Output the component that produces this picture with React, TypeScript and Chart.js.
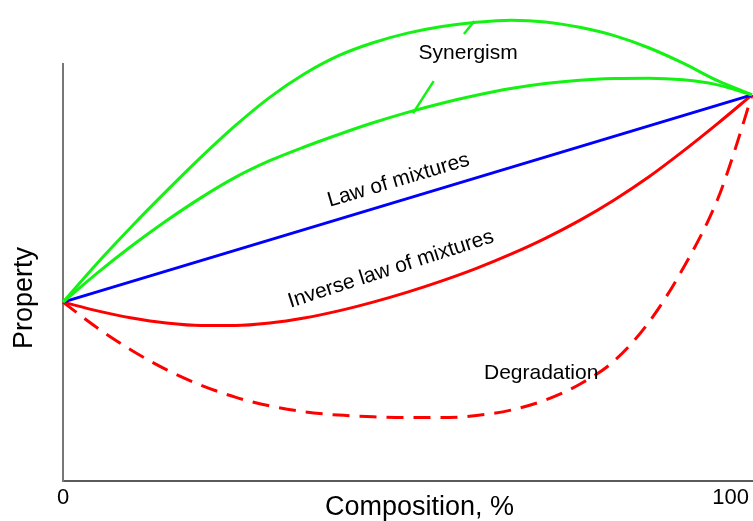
import React, { useEffect, useRef } from "react";
import { Chart, registerables } from "chart.js";

Chart.register(...registerables);

// Composition (%) sample positions
const composition = [0, 5, 10, 15, 20, 25, 30, 35, 40, 45, 50, 55, 60, 65, 70, 75, 80, 85, 90, 95, 100];

// Property values (arbitrary units, axis spans 0..100)
const synergismUpper = [42.9, 52.3, 61.1, 69.5, 77.6, 85.2, 92.0, 97.6, 102.0, 105.1, 107.4, 109.0, 110.0, 110.5, 110.1, 108.8, 106.8, 103.9, 100.2, 96.0, 92.6];
const synergismLower = [42.9, 49.9, 56.4, 62.4, 67.9, 72.8, 76.8, 80.1, 83.1, 85.9, 88.4, 90.6, 92.5, 94.1, 95.3, 96.1, 96.5, 96.6, 96.2, 95.0, 92.6];
const inverseLaw = [42.9, 40.8, 39.1, 37.9, 37.3, 37.3, 37.9, 39.1, 40.8, 42.9, 45.3, 48.0, 51.0, 54.4, 58.2, 62.5, 67.4, 72.9, 79.1, 85.7, 92.6];

const lawComposition = [0, 100];
const lawValues = [42.9, 92.6];

const degradationComposition = [0, 5, 10, 15, 20, 25, 30, 35, 40, 45, 50, 55, 60, 65, 70, 75, 80, 85, 90, 95, 97.5, 100];
const degradationValues = [42.9, 36.7, 31.3, 26.7, 23.0, 20.1, 18.0, 16.6, 15.8, 15.4, 15.2, 15.2, 15.7, 17.0, 19.4, 23.2, 28.8, 38.0, 51.0, 67.5, 79.3, 92.6];

// Pointer strokes of the "Synergism" label
const pointer1Composition = [59.7, 58.2];
const pointer1Values = [110.3, 107.2];
const pointer2Composition = [53.8, 50.8];
const pointer2Values = [95.9, 88.2];

// Annotations (data coordinates)
const annotationTexts = ["Synergism", "Law of mixtures", "Inverse law of mixtures", "Degradation"];
const annotationX = [58.8, 48.7, 47.6, 69.4];
const annotationY = [102.6, 72.1, 50.8, 25.8];
const annotationAngle = [0, -16.5, -17.9, 0];

// Axis labels
const xTickValues = [0, 100];
const xTickLabels = ["0", "100"];
const xTitle = "Composition, %";
const yTitle = "Property";

const GREEN = "rgb(20,242,20)";
const BLUE = "rgb(0,0,255)";
const RED = "rgb(255,0,0)";
const FONT = '"Liberation Sans", Arial, sans-serif';

function pts(xs: number[], ys: number[]) {
  return xs.map((x, i) => ({ x, y: ys[i] }));
}

export default function App() {
  const ref = useRef<HTMLCanvasElement>(null);

  useEffect(() => {
    const canvas = ref.current;
    if (!canvas) return;

    const textPlugin = {
      id: "textLabels",
      afterDraw(chart: any) {
        const { ctx, chartArea } = chart;
        const xs = chart.scales.x;
        const ys = chart.scales.y;
        ctx.save();
        ctx.fillStyle = "#000";

        ctx.font = `21px ${FONT}`;
        ctx.textAlign = "center";
        ctx.textBaseline = "middle";
        annotationTexts.forEach((t, i) => {
          ctx.save();
          ctx.translate(xs.getPixelForValue(annotationX[i]), ys.getPixelForValue(annotationY[i]));
          ctx.rotate((annotationAngle[i] * Math.PI) / 180);
          ctx.fillText(t, 0, 0);
          ctx.restore();
        });

        ctx.font = `22px ${FONT}`;
        ctx.textBaseline = "alphabetic";
        ctx.textAlign = "center";
        ctx.fillText(xTickLabels[0], xs.getPixelForValue(xTickValues[0]), chartArea.bottom + 23);
        ctx.textAlign = "right";
        ctx.fillText(xTickLabels[1], xs.getPixelForValue(xTickValues[1]) - 3, chartArea.bottom + 23);

        ctx.font = `27px ${FONT}`;
        ctx.textAlign = "center";
        ctx.fillText(xTitle, (chartArea.left + chartArea.right) / 2 + 12, chartArea.bottom + 34);

        ctx.save();
        ctx.translate(32, 298);
        ctx.rotate(-Math.PI / 2);
        ctx.textAlign = "center";
        ctx.fillText(yTitle, 0, 0);
        ctx.restore();

        ctx.restore();
      },
    };

    const lineBase = {
      pointRadius: 0,
      borderWidth: 3,
      fill: false,
      clip: false as any,
      cubicInterpolationMode: "monotone" as const,
    };

    const chart = new Chart(canvas, {
      type: "line",
      data: {
        datasets: [
          { ...lineBase, label: "Synergism upper", data: pts(composition, synergismUpper), borderColor: GREEN },
          { ...lineBase, label: "Synergism lower", data: pts(composition, synergismLower), borderColor: GREEN },
          { ...lineBase, label: "Law of mixtures", data: pts(lawComposition, lawValues), borderColor: BLUE },
          { ...lineBase, label: "Inverse law of mixtures", data: pts(composition, inverseLaw), borderColor: RED },
          {
            ...lineBase,
            label: "Degradation",
            data: pts(degradationComposition, degradationValues),
            borderColor: RED,
            borderDash: [17, 10],
          },
          { ...lineBase, label: "p1", data: pts(pointer1Composition, pointer1Values), borderColor: GREEN, borderWidth: 2.5 },
          { ...lineBase, label: "p2", data: pts(pointer2Composition, pointer2Values), borderColor: GREEN, borderWidth: 2.5 },
        ],
      },
      options: {
        animation: false,
        responsive: true,
        maintainAspectRatio: false,
        layout: { padding: { top: 64, right: 1, left: 0, bottom: 0 } },
        plugins: {
          legend: { display: false },
          tooltip: { enabled: false },
        },
        events: [],
        scales: {
          x: {
            type: "linear",
            min: 0,
            max: 100,
            ticks: { display: false },
            grid: { display: false, drawTicks: false },
            border: { display: true, color: "#5a5a5a", width: 2 },
            afterFit: (s: any) => {
              s.height = 40;
            },
          },
          y: {
            type: "linear",
            min: 0,
            max: 100,
            ticks: { display: false },
            grid: { display: false, drawTicks: false },
            border: { display: true, color: "#777777", width: 2 },
            afterFit: (s: any) => {
              s.width = 63;
            },
          },
        },
      },
      plugins: [textPlugin],
    });

    return () => chart.destroy();
  }, []);

  return (
    <div style={{ position: "absolute", left: 0, top: 0, width: 753, height: 521, background: "#fff" }}>
      <canvas ref={ref} />
    </div>
  );
}
